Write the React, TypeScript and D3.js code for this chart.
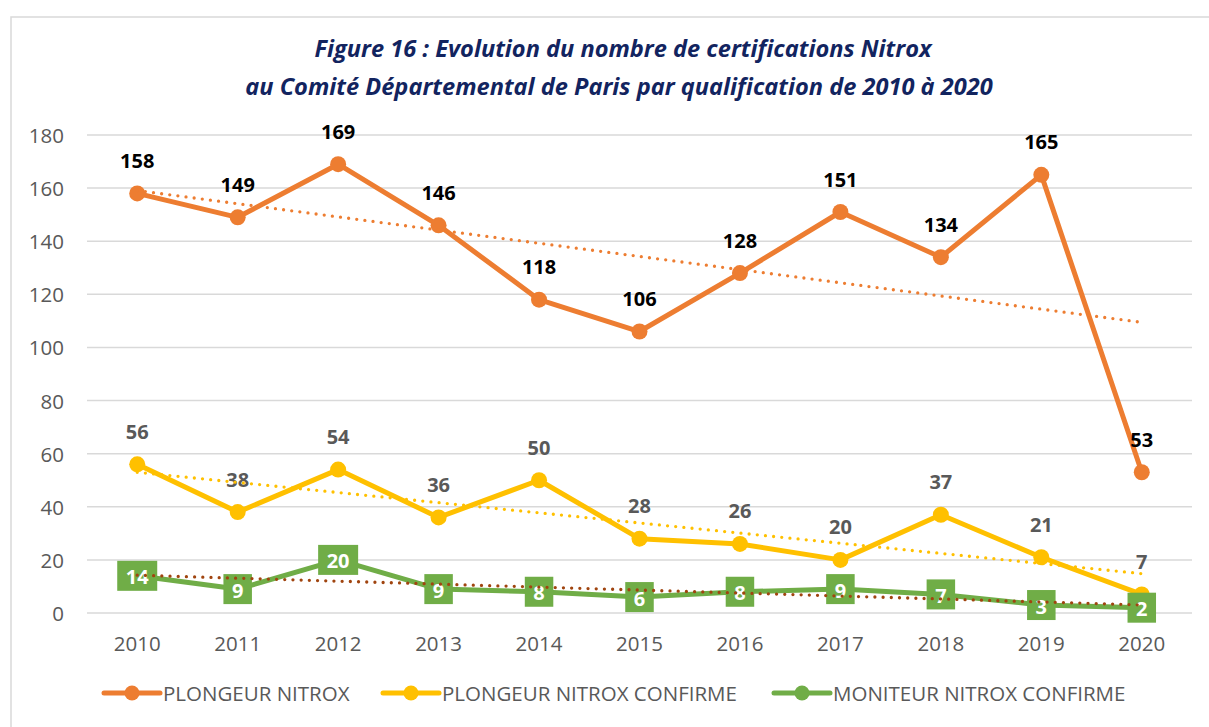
import React from 'react';
import * as d3 from 'd3';

const years = ['2010', '2011', '2012', '2013', '2014', '2015', '2016', '2017', '2018', '2019', '2020'];
const plongeurNitrox = [158, 149, 169, 146, 118, 106, 128, 151, 134, 165, 53];
const plongeurConfirme = [56, 38, 54, 36, 50, 28, 26, 20, 37, 21, 7];
const moniteurConfirme = [14, 9, 20, 9, 8, 6, 8, 9, 7, 3, 2];
const yTicks = [0, 20, 40, 60, 80, 100, 120, 140, 160, 180];
const legendLabels = ['PLONGEUR NITROX', 'PLONGEUR NITROX CONFIRME', 'MONITEUR NITROX CONFIRME'];

const FONT = '"Open Sans", "Noto Sans", sans-serif';
const GRAY = '#595959';

// linear least squares, like Excel's linear trendline
const trend = (vals: number[]) => {
  const n = vals.length;
  const xs = vals.map((_, i) => i);
  const mx = d3.mean(xs) as number;
  const my = d3.mean(vals) as number;
  const sxy = d3.sum(xs, (x, i) => (x - mx) * (vals[i] - my));
  const sxx = d3.sum(xs, x => (x - mx) * (x - mx));
  const slope = sxy / sxx;
  return [0, n - 1].map(i => ({ i, v: my + slope * (i - mx) }));
};

export default function App() {
  const width = 1209;
  const height = 727;

  const x = d3.scaleBand<string>().domain(years).range([87, 1192]);
  const cx = (i: number) => (x(years[i]) as number) + x.bandwidth() / 2;
  const y = d3.scaleLinear().domain([0, 180]).range([613, 135]);

  const line = d3.line<number>().x((_, i) => cx(i)).y(d => y(d));
  const trendLine = d3.line<{ i: number; v: number }>().x(d => cx(d.i)).y(d => y(d.v));

  const series = [
    { name: legendLabels[0], values: plongeurNitrox, color: '#ED7D31', trendColor: '#ED7D31', label: '#000000' },
    { name: legendLabels[1], values: plongeurConfirme, color: '#FFC000', trendColor: '#FFC000', label: GRAY },
    { name: legendLabels[2], values: moniteurConfirme, color: '#70AD47', trendColor: '#A0440F', label: '#FFFFFF' },
  ];

  const legendPos = [104, 383, 774];

  return (
    <svg width={width} height={height} style={{ position: 'absolute', left: 0, top: 0 }} fontFamily={FONT}>
      <rect x={0} y={0} width={width} height={height} fill="#FFFFFF" />
      <rect x={11} y={17} width={1210} height={730} fill="none" stroke="#D9D9D9" strokeWidth={1.5} />

      {/* title */}
      <text x={621} textAnchor="middle" fill="#12245F" fontWeight="bold" fontStyle="italic" fontSize={23.6}>
        <tspan x={623} y={57}>Figure 16 : Evolution du nombre de certifications Nitrox</tspan>
        <tspan x={619} y={95}>au Comité Départemental de Paris par qualification de 2010 à 2020</tspan>
      </text>

      {/* gridlines + y axis labels */}
      {yTicks.map(t => (
        <g key={t}>
          <line x1={87} x2={1192} y1={y(t)} y2={y(t)} stroke="#D9D9D9" strokeWidth={1.5} />
          <text x={64} y={y(t)} textAnchor="end" dominantBaseline="central" fontSize={20.5} fill={GRAY}>{t}</text>
        </g>
      ))}

      {/* x axis labels */}
      {years.map((yr, i) => (
        <text key={yr} x={cx(i)} y={643} textAnchor="middle" dominantBaseline="central" fontSize={20.5} fill={GRAY}>{yr}</text>
      ))}

      {/* series lines */}
      {series.map(s => (
        <path key={s.name} d={line(s.values) as string} fill="none" stroke={s.color} strokeWidth={5} strokeLinejoin="round" strokeLinecap="round" />
      ))}

      {/* markers */}
      {series.map(s =>
        s.values.map((v, i) => <circle key={s.name + i} cx={cx(i)} cy={y(v)} r={8} fill={s.color} />)
      )}

      {/* data labels */}
      {series.slice(0, 2).map(s =>
        s.values.map((v, i) => (
          <text key={s.name + 'l' + i} x={cx(i)} y={y(v) - 33} textAnchor="middle" dominantBaseline="central" fontSize={20} fontWeight="bold" fill={s.label}>{v}</text>
        ))
      )}
      {moniteurConfirme.map((v, i) => {
        const w = String(v).length * 11.5 + 17;
        return (
          <g key={'m' + i}>
            <rect x={cx(i) - w / 2} y={y(v) - 15} width={w} height={30} fill="#70AD47" />
            <text x={cx(i)} y={y(v) + 1} textAnchor="middle" dominantBaseline="central" fontSize={20} fontWeight="bold" fill="#FFFFFF">{v}</text>
          </g>
        );
      })}

      {/* trend lines */}
      {series.map(s => (
        <path key={s.name + 't'} d={trendLine(trend(s.values)) as string} fill="none" stroke={s.trendColor} strokeWidth={3.3} strokeLinecap="round" strokeDasharray="0 8.2" />
      ))}

      {/* legend */}
      {series.map((s, k) => (
        <g key={s.name + 'leg'} transform={`translate(${legendPos[k]},693)`}>
          <line x1={0} x2={56} y1={0} y2={0} stroke={s.color} strokeWidth={5} strokeLinecap="round" />
          <circle cx={28} cy={0} r={7.5} fill={s.color} />
          <text x={59} y={0} dominantBaseline="central" fontSize={20.5} fill={GRAY}>{s.name}</text>
        </g>
      ))}
    </svg>
  );
}
